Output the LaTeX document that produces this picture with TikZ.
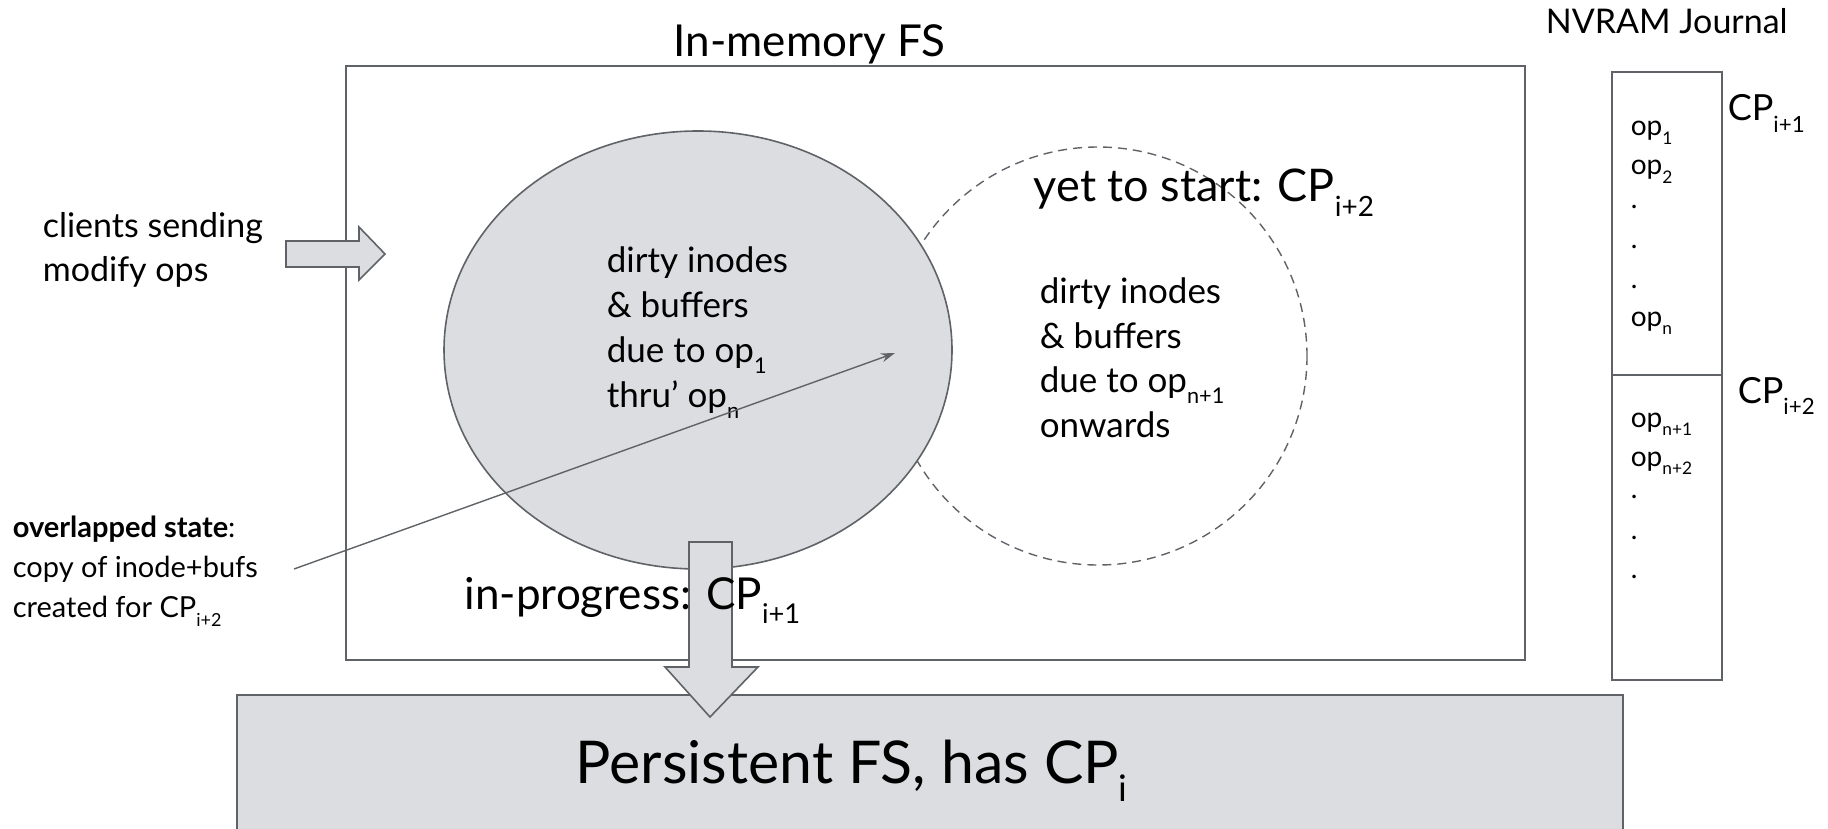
\documentclass[tikz,border=0pt]{standalone}
\usepackage{fontspec}
\setmainfont{Lato}
\usetikzlibrary{arrows.meta}
\definecolor{edge}{HTML}{5F6368}
\definecolor{shade}{HTML}{DCDDE0}
% lowered subscript in text
\newcommand{\lowsub}[1]{\raisebox{-0.32em}{\scalebox{0.62}{#1}}}
\newcommand{\fsz}[2]{\fontsize{#1}{#2}\selectfont}
\begin{document}
\begin{tikzpicture}[x=1pt,y=-1pt,line width=1.6pt,
  frame/.style={draw=edge},
  blockarrow/.style={draw=edge,fill=shade,line join=miter},
  lbl/.style={anchor=base west,inner sep=0pt,align=left}]
\useasboundingbox (0,0) rectangle (1828,829);
\clip (0,0) rectangle (1828,829);

% in-memory file system frame
\draw[frame] (346,66) rectangle (1525,660);
\node[lbl,font=\fsz{44}{50}] (memtitle) at (673,57) {In-memory FS};

% next checkpoint (dashed) and in-progress checkpoint (filled)
\draw[frame,dashed,dash pattern=on 9pt off 6pt,line width=1.4pt] (1098,356) circle (209);
\draw[frame,fill=shade] (698,350) ellipse (254 and 219);

% multi-line labels are placed by the baseline of their last line
\node[lbl,font=\fsz{35}{45}] (curtxt) at (606,407)
  {dirty inodes\\ \& buffers\\ due to op\lowsub{1}\\ thru’ op\lowsub{n}};
\node[lbl,font=\fsz{35}{44.5}] (nexttxt) at (1039,437)
  {dirty inodes\\ \& buffers\\ due to op\lowsub{n+1}\\ onwards};
\node[lbl,font=\fsz{45}{50}] (nextlbl) at (1033,202) {yet to start: CP\lowsub{i+2}};

% clients
\node[lbl,font=\fsz{34}{44}] (clients) at (42,281) {clients sending\\ modify ops};
\draw[blockarrow] (286,241) -- (359,241) -- (359,227) -- (385,254) -- (359,280)
  -- (359,267) -- (286,267) -- cycle;

% persistent file system
\draw[frame,fill=shade] (237,695) rectangle (1623,860);
\node[lbl,font=\fsz{59}{70}] (perstxt) at (575,783) {Persistent FS, has CP\lowsub{i}};

% checkpoint flush arrow
\draw[blockarrow] (689,542) -- (732,542) -- (732,667) -- (758,667) -- (710,717)
  -- (665,667) -- (689,667) -- cycle;
\node[lbl,font=\fsz{44}{50}] (curlbl) at (464,609) {in-progress: CP\lowsub{i+1}};

% overlapped state annotation
\node[lbl,font=\fsz{29}{40}] (ovl) at (12,617)
  {\textbf{overlapped state}:\\ copy of inode+bufs\\ created for CP\lowsub{i+2}};
\coordinate (ovlstart) at (294,569);
\coordinate (ovltip) at (895,353);
\draw[edge,line width=1.4pt,-{Stealth[length=14pt,width=9pt]}] (ovlstart) -- (ovltip);

% NVRAM journal
\node[lbl,font=\fsz{34}{40}] (jtitle) at (1545,34) {NVRAM Journal};
\draw[frame] (1612,72) rectangle (1722,680);
\draw[frame] (1612,375) -- (1722,375);
\node[lbl,font=\fsz{36}{40}] (cp1) at (1727,121) {CP\lowsub{i+1}};
\node[lbl,font=\fsz{36}{40}] (cp2) at (1737,403) {CP\lowsub{i+2}};
\begin{scope}[every node/.style={lbl,font=\fsz{28}{30}}]
  \node (j1) at (1630,136) {op\lowsub{1}};
  \node (j2) at (1630,175) {op\lowsub{2}};
  \node (j3) at (1630,208) {.};
  \node (j4) at (1630,248) {.};
  \node (j5) at (1630,288) {.};
  \node (j6) at (1630,326) {op\lowsub{n}};
  \node (k1) at (1630,427) {op\lowsub{n+1}};
  \node (k2) at (1630,466) {op\lowsub{n+2}};
  \node (k3) at (1630,498) {.};
  \node (k4) at (1630,539) {.};
  \node (k5) at (1630,578) {.};
\end{scope}
\end{tikzpicture}
\end{document}
